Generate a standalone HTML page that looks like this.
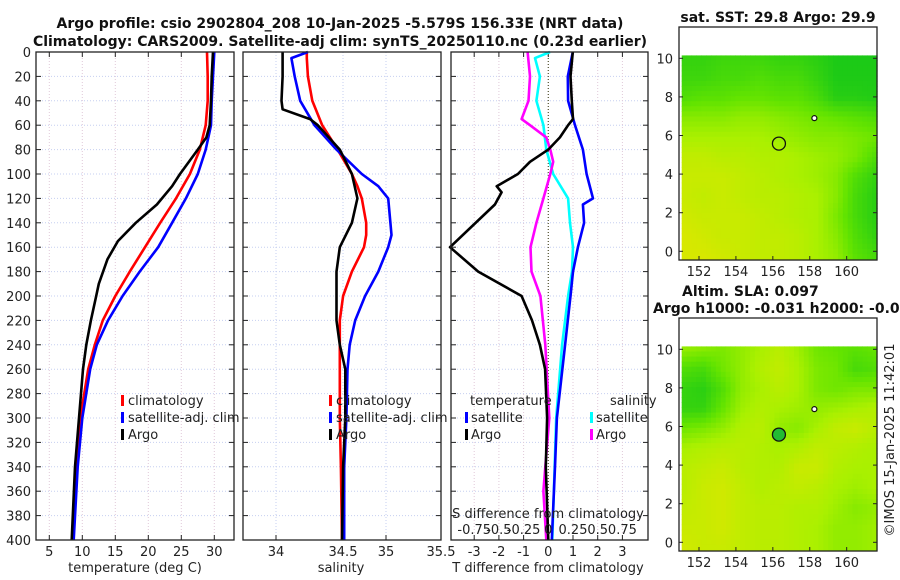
<!DOCTYPE html>
<html><head><meta charset="utf-8">
<style>
html,body{margin:0;padding:0;background:#fff;}
svg{display:block;font-family:"DejaVu Sans","Liberation Sans",sans-serif;}
.t{font-size:13px;fill:#222;}
.ttl{font-size:14px;font-weight:bold;fill:#111;}
</style></head>
<body>
<svg id="chart" width="900" height="580" viewBox="0 0 900 580">
  <text class="ttl" x="340" y="28" text-anchor="middle">Argo profile: csio 2902804_208 10-Jan-2025 -5.579S 156.33E (NRT data)</text>
  <text class="ttl" x="340" y="46" text-anchor="middle">Climatology: CARS2009. Satellite-adj clim: synTS_20250110.nc (0.23d earlier)</text>
  <text class="ttl" x="778" y="22" text-anchor="middle">sat. SST: 29.8 Argo: 29.9</text>
  <text class="ttl" x="682" y="296">Altim. SLA: 0.097</text>
  <text class="ttl" x="653" y="313">Argo h1000: -0.031 h2000: -0.042</text>
  <text class="t" x="0" y="0" transform="translate(894,440) rotate(-90)" text-anchor="middle">©IMOS 15-Jan-2025 11:42:01</text>
  <g id="layer"></g>
</svg>
<script>
// ---------- data ----------
const depths = [0,20,40,60,80,100,120,140,160,180,200,220,240,260,300,340,400];
const tempClim = [28.9,29.0,29.0,28.7,27.8,26.3,24.2,21.8,19.5,17.2,15.0,13.1,11.9,10.9,9.7,9.0,8.5];
const tempSat  = [30.0,29.8,29.6,29.5,28.7,27.5,25.7,23.6,21.5,18.7,16.1,13.9,12.2,11.2,10.0,9.3,8.7];
const argoTDepths = [0,20,40,60,70,80,100,110,125,140,155,170,190,200,220,240,260,300,340,400];
const tempArgo = [29.8,29.6,29.5,29.3,28.8,27.5,24.8,23.6,21.3,18.1,15.4,13.8,12.5,12.1,11.3,10.6,10.1,9.5,8.9,8.4];
const salDepths = [0,5,20,40,60,80,100,110,120,140,150,160,180,200,220,240,260,300,340,400];
const salClim = [34.28,34.28,34.29,34.33,34.42,34.56,34.69,34.74,34.78,34.82,34.82,34.80,34.69,34.61,34.58,34.58,34.58,34.58,34.59,34.60];
const salSat  = [34.29,34.14,34.17,34.22,34.35,34.55,34.78,34.93,35.02,35.04,35.05,35.02,34.93,34.81,34.72,34.67,34.65,34.64,34.62,34.62];
const argoSDepths = [0,20,40,47,55,60,80,100,120,140,160,180,220,240,260,300,340,400];
const salArgo = [34.06,34.06,34.05,34.06,34.31,34.38,34.58,34.69,34.74,34.69,34.58,34.55,34.55,34.58,34.63,34.63,34.61,34.60];
const dTDepths = [0,20,40,60,80,100,120,125,140,160,180,200,240,300,340,400];
const dTSat = [0.99,0.79,0.80,1.08,1.40,1.55,1.81,1.40,1.45,1.20,1.00,0.90,0.68,0.35,0.27,0.14];
const dTArgoDepths = [0,20,40,55,60,70,80,90,100,110,115,125,160,180,200,220,240,260,300,340,400];
const dTArgo = [0.99,0.90,0.95,1.00,0.80,0.47,0.0,-0.74,-1.23,-2.09,-1.89,-2.16,-3.98,-2.84,-1.08,-0.66,-0.34,-0.13,-0.05,-0.10,0.0];
const dSDepths = [0,5,20,40,60,80,100,120,140,160,180,200,240,300,400];
const dSSat = [0.017,-0.135,-0.085,-0.12,-0.05,-0.02,0.05,0.20,0.22,0.25,0.24,0.20,0.14,0.08,0.04];
const dSArgoDepths = [0,20,40,55,60,70,80,90,100,120,140,160,180,200,240,300,340,360,400];
const dSArgo = [-0.21,-0.185,-0.20,-0.27,-0.185,-0.02,0.02,0.05,0.02,-0.05,-0.12,-0.18,-0.17,-0.08,-0.03,0.01,-0.03,-0.05,-0.02];
const depthTicks = [0,20,40,60,80,100,120,140,160,180,200,220,240,260,280,300,320,340,360,380,400];
const tTicks = [5,10,15,20,25,30];
const sTicks = [34,34.5,35,35.5];
const dTTicks = [-3,-2,-1,0,1,2,3];
const dSTickLabels = ["-0.75","-0.5","-0.25","0","0.25","0.5","0.75"];
const lonTicks = [152,154,156,158,160];
const latTicks = [0,2,4,6,8,10];
// coarse fields (rows lat 10 -> 0, cols lon 151 -> 161), 0 = green, 1 = yellow
const sstField = [
 [0.15,0.15,0.2,0.2,0.2,0.15,0.15,0.1,0.02,0.02,0.02],
 [0.2,0.2,0.25,0.25,0.3,0.25,0.25,0.15,0.03,0.03,0.03],
 [0.3,0.35,0.35,0.4,0.4,0.35,0.35,0.25,0.08,0.08,0.05],
 [0.55,0.55,0.55,0.6,0.6,0.55,0.5,0.45,0.4,0.35,0.3],
 [0.7,0.7,0.7,0.7,0.7,0.65,0.6,0.55,0.55,0.5,0.45],
 [0.85,0.85,0.8,0.8,0.75,0.75,0.7,0.65,0.6,0.5,0.3],
 [0.9,0.9,0.9,0.85,0.8,0.75,0.7,0.65,0.55,0.3,0.15],
 [0.9,0.85,0.9,0.85,0.8,0.8,0.75,0.7,0.55,0.25,0.1],
 [0.95,0.9,0.9,0.9,0.85,0.8,0.75,0.7,0.5,0.25,0.1],
 [1.0,0.95,0.9,0.9,0.85,0.85,0.8,0.7,0.55,0.3,0.15],
 [1.0,1.0,0.95,0.9,0.85,0.85,0.8,0.7,0.6,0.35,0.25]];
const slaField = [
 [0.6,0.55,0.5,0.6,0.7,0.8,0.65,0.45,0.4,0.35,0.4],
 [0.3,0.25,0.45,0.6,0.75,0.85,0.7,0.5,0.45,0.25,0.3],
 [0.15,0.1,0.3,0.6,0.7,0.8,0.7,0.5,0.45,0.5,0.5],
 [0.15,0.15,0.4,0.65,0.75,0.7,0.65,0.6,0.65,0.7,0.75],
 [0.45,0.5,0.6,0.75,0.8,0.6,0.55,0.7,0.85,0.9,0.8],
 [0.7,0.75,0.8,0.8,0.75,0.7,0.75,0.85,0.8,0.75,0.7],
 [0.8,0.85,0.9,0.8,0.75,0.75,0.9,0.9,0.75,0.7,0.7],
 [0.8,0.9,0.95,0.85,0.75,0.8,0.85,0.8,0.7,0.65,0.7],
 [0.85,0.9,0.95,0.85,0.8,0.8,0.75,0.75,0.65,0.55,0.6],
 [0.9,0.9,0.95,0.85,0.8,0.8,0.75,0.7,0.6,0.6,0.65],
 [0.95,0.9,0.9,0.85,0.8,0.8,0.75,0.7,0.6,0.6,0.65]];
const argoLon = 156.33, argoLat = 5.58;

// ---------- helpers ----------
const NS = "http://www.w3.org/2000/svg";
const layer = document.getElementById('layer');
function mk(tag, attrs, parent){ const e=document.createElementNS(NS,tag); for(const k in attrs) e.setAttribute(k,attrs[k]); (parent||layer).appendChild(e); return e; }
const top0=52, bot0=540;
const yD = d => top0 + d*(bot0-top0)/400;
const xT = v => 49.3 + (v-5)*6.6;
const xS = v => 276 + (v-34)*110;
const xDT = v => 548.3 + v*24.7;
const xDS = v => xDT(v*4);

const panels = [{x0:36,x1:234,name:'temperature-panel'},{x0:243,x1:441,name:'salinity-panel'},{x0:451,x1:648,name:'difference-panel'}];

function drawPanel(p, idx, xticks, xf){
  const g = mk('g',{});
  
  
  depthTicks.forEach(d=>{ const l=mk('line',{x1:p.x0,x2:p.x1,y1:yD(d),y2:yD(d),stroke:'#c6cff0','stroke-width':1,'stroke-dasharray':'1,2'},g);
     
    mk('line',{x1:p.x0,x2:p.x0+5,y1:yD(d),y2:yD(d),stroke:'#222'},g);
    mk('line',{x1:p.x1-5,x2:p.x1,y1:yD(d),y2:yD(d),stroke:'#222'},g);
    if(idx===0){ const t=mk('text',{x:p.x0-5,y:yD(d)+5,'text-anchor':'end',class:'t'},g); t.textContent=d;
        }
  });
  xticks.forEach((v,i)=>{ const x=xf(v);
    const l=mk('line',{x1:x,x2:x,y1:top0,y2:bot0,stroke:'#e0c8d8','stroke-width':1,'stroke-dasharray':'1,2'},g);
     
    mk('line',{x1:x,x2:x,y1:bot0,y2:bot0-5,stroke:'#222'},g);
    mk('line',{x1:x,x2:x,y1:top0,y2:top0+5,stroke:'#222'},g);
    const t=mk('text',{x:x,y:556,'text-anchor':'middle',class:'t'},g); t.textContent=v;
     
  });
  return g;
}
function line(g, xs, ds, xf, color, name, w){
  const pts = xs.map((v,i)=>xf(v).toFixed(1)+','+yD(ds[i]).toFixed(1)).join(' ');
  const pl = mk('polyline',{points:pts,fill:'none',stroke:color,'stroke-width':w||2.6,'stroke-linejoin':'round'},g);
  
  
}
function frame(g,p){ const r=mk('rect',{x:p.x0,y:top0,width:p.x1-p.x0,height:bot0-top0,fill:'none',stroke:'#222','stroke-width':1.3},g);
    }
function txt(g,x,y,s,name,anchor){ const t=mk('text',{x:x,y:y,class:'t','text-anchor':anchor||'start'},g); t.textContent=s;
    return t; }
function legBar(g,x,y,color){ const r=mk('rect',{x:x,y:y-10,width:3,height:11,fill:color},g);
    }

// Panel 1
let g1 = drawPanel(panels[0],0,tTicks,xT);
line(g1,tempClim,depths,xT,'#ff0000','climatology-temperature-line');
line(g1,tempSat,depths,xT,'#0000ff','satellite-temperature-line');
line(g1,tempArgo,argoTDepths,xT,'#000000','argo-temperature-line');
frame(g1,panels[0]);
txt(g1,135,572,'temperature (deg C)','x-axis-title-temperature','middle');
[['climatology','#ff0000'],['satellite-adj. clim','#0000ff'],['Argo','#000']].forEach((e,i)=>{legBar(g1,121,405+i*17,e[1]); txt(g1,128,405+i*17,e[0],'legend-entry');});

// Panel 2
let g2 = drawPanel(panels[1],1,[],xS);
const sTickPx=[276,343,386,441];
sTicks.forEach((v,i)=>{ const x=sTickPx[i];
  const l=mk('line',{x1:x,x2:x,y1:top0,y2:bot0,stroke:'#c6cff0','stroke-dasharray':'1,2'},g2);
   
  mk('line',{x1:x,x2:x,y1:bot0,y2:bot0-5,stroke:'#222'},g2);
  txt(g2,x,556,String(v),'x-tick-label','middle'); });
line(g2,salClim,salDepths,xS,'#ff0000','climatology-salinity-line');
line(g2,salSat,salDepths,xS,'#0000ff','satellite-salinity-line');
line(g2,salArgo,argoSDepths,xS,'#000000','argo-salinity-line');
frame(g2,panels[1]);
txt(g2,341,572,'salinity','x-axis-title-salinity','middle');
[['climatology','#ff0000'],['satellite-adj. clim','#0000ff'],['Argo','#000']].forEach((e,i)=>{legBar(g2,329,405+i*17,e[1]); txt(g2,336,405+i*17,e[0],'legend-entry');});

// Panel 3
let g3 = drawPanel(panels[2],2,dTTicks,xDT);
const zl=mk('line',{x1:xDT(0),x2:xDT(0),y1:top0,y2:bot0,stroke:'#555533','stroke-width':1.2,'stroke-dasharray':'1,2'},g3);
 
line(g3,dSSat,dSDepths,xDS,'#00ffff','satellite-salinity-difference-line');
line(g3,dSArgo,dSArgoDepths,xDS,'#ff00ff','argo-salinity-difference-line');
line(g3,dTSat,dTDepths,xDT,'#0000ff','satellite-temperature-difference-line');
line(g3,dTArgo,dTArgoDepths,xDT,'#000000','argo-temperature-difference-line');
frame(g3,panels[2]);
txt(g3,548,572,'T difference from climatology','x-axis-title-t-difference','middle');
txt(g3,548,518,'S difference from climatology','s-axis-title','middle');
dSTickLabels.forEach((s,i)=>txt(g3,xDT(dTTicks[i]),534,s,'s-tick-label','middle'));
txt(g3,470,405,'temperature','legend-title-temperature');
txt(g3,610,405,'salinity','legend-title-salinity');
legBar(g3,465,422,'#0000ff'); txt(g3,471,422,'satellite','legend-entry');
legBar(g3,465,439,'#000'); txt(g3,471,439,'Argo','legend-entry');
legBar(g3,590,422,'#00ffff'); txt(g3,596,422,'satellite','legend-entry');
legBar(g3,590,439,'#ff00ff'); txt(g3,596,439,'Argo','legend-entry');

// ---------- maps ----------
function cmap(v){
  const stops=[[0,[24,200,24]],[0.4,[100,228,0]],[0.7,[170,240,0]],[1,[215,232,0]]];
  for(let i=1;i<stops.length;i++){ if(v<=stops[i][0]){ const a=stops[i-1],b=stops[i],t=(v-a[0])/(b[0]-a[0]);
    const c=a[1].map((x,j)=>Math.round(x+(b[1][j]-x)*t)); return `rgb(${c[0]},${c[1]},${c[2]})`; } }
  return 'rgb(215,232,0)';
}
function sample(f,r,c){ const r0=Math.min(Math.floor(r),f.length-2), c0=Math.min(Math.floor(c),f[0].length-2);
  const fr=r-r0, fc=c-c0;
  return f[r0][c0]*(1-fr)*(1-fc)+f[r0][c0+1]*(1-fr)*fc+f[r0+1][c0]*fr*(1-fc)+f[r0+1][c0+1]*fr*fc; }
function drawMap(field, yTop, name, filled){
  const g=mk('g',{});
  
  
  const lat10=yTop+31.3, lat0=lat10+193;
  const xL = lon => 699 + (lon-152)*18.46;
  const yL = lat => lat0 - lat*(lat0-lat10)/10;
  const fx0=681.7, fx1=877, fy0=yL(10.15), fy1=yL(-0.4);
  const n=40, m=40;
  for(let i=0;i<m;i++) for(let j=0;j<n;j++){
    const v=sample(field,i*10/(m-1),j*10/(n-1));
    mk('rect',{x:(fx0+j*(fx1-fx0)/n).toFixed(2),y:(fy0+i*(fy1-fy0)/m).toFixed(2),width:((fx1-fx0)/n+0.6).toFixed(2),height:((fy1-fy0)/m+0.6).toFixed(2),fill:cmap(v)},g);
  }
  const fr=mk('rect',{x:679,y:yTop,width:198,height:fy1-yTop+1,fill:'none',stroke:'#222','stroke-width':1.3},g);
   
  lonTicks.forEach(l=>{ mk('line',{x1:xL(l),x2:xL(l),y1:fy1+1,y2:fy1-3,stroke:'#222'},g); txt(g,xL(l),fy1+17,String(l),'lon-tick-label','middle'); });
  latTicks.forEach(l=>{ mk('line',{x1:679,x2:683,y1:yL(l),y2:yL(l),stroke:'#222'},g); mk('line',{x1:873,x2:877,y1:yL(l),y2:yL(l),stroke:'#222'},g);
    txt(g,673,yL(l)+5,String(l),'lat-tick-label','end'); });
  const c=mk('circle',{cx:xL(argoLon),cy:yL(argoLat),r:6.5,fill:filled?'#22bb33':'none',stroke:'#111','stroke-width':1.3},g);
   
  const c2=mk('circle',{cx:xL(158.25),cy:yL(6.9),r:2.5,fill:'#fff',stroke:'#111','stroke-width':1.2},g);
   
}
drawMap(sstField, 27, 'sst-map', false);
drawMap(slaField, 318, 'sla-map', true);
</script>
</body></html>
